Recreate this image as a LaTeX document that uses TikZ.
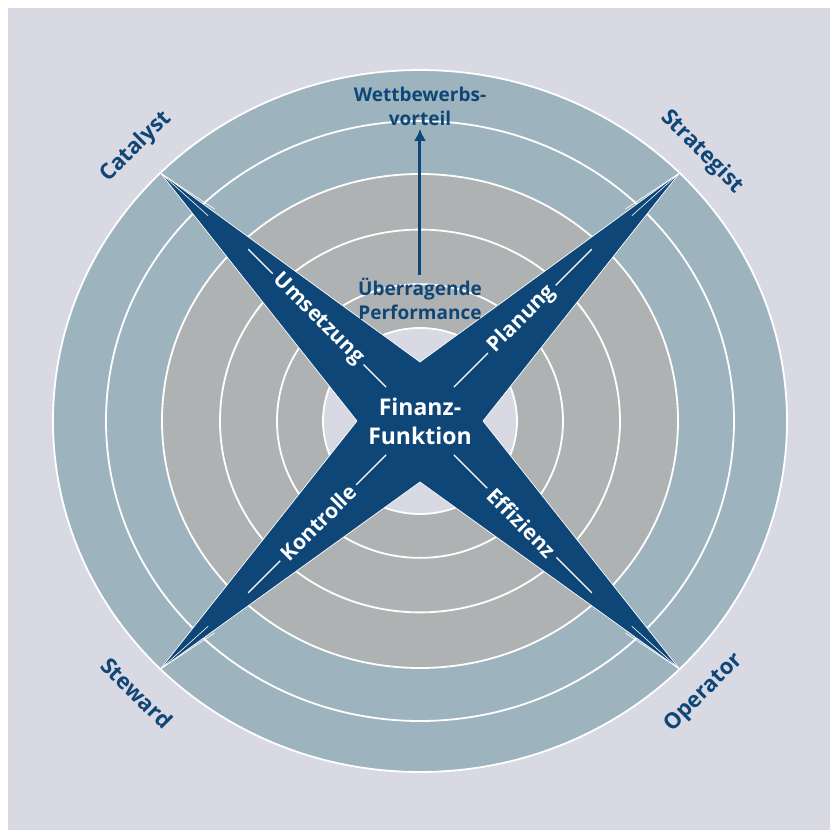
\documentclass[tikz,border=0pt]{standalone}
\usepackage{fontspec}
\setmainfont{Open Sans}
\usetikzlibrary{arrows.meta}
\definecolor{bgcol}{HTML}{D9D9E3}
\definecolor{ringblue}{HTML}{9DB4BE}
\definecolor{ringgray}{HTML}{AFB2B3}
\definecolor{navy}{HTML}{0E4678}

\begin{document}
\begin{tikzpicture}[x=1pt, y=1pt,
  ring/.style={draw=white, line width=1.8pt},
  armlabel/.style={fill=navy, text=white, inner xsep=5pt, inner ysep=1pt,
    font=\bfseries\fontsize{21}{25}\selectfont},
  rolelabel/.style={text=navy, font=\bfseries\fontsize{22}{26}\selectfont},
  goal/.style={text=navy, align=center, font=\bfseries\fontsize{19}{24}\selectfont}]
  % page and background
  \fill[white] (-420,-409) rectangle (410,421);
  \fill[bgcol] (-412,-409) rectangle (410,413);
  % rings
  \draw[ring, fill=ringblue] (0,0) ellipse [x radius=367, y radius=351];
  \draw[ring] (0,0) ellipse [x radius=314, y radius=300];
  \draw[ring, fill=ringgray] (0,0) ellipse [x radius=258, y radius=247];
  \foreach \r in {200,143}
    \draw[ring] (0,0) ellipse [x radius=\r, y radius=0.957*\r];
  \draw[ring, fill=bgcol] (0,0) ellipse [x radius=97, y radius=93];
  % star
  \coordinate (tipNW) at (-259.5,248);
  \coordinate (tipNE) at (259.5,248);
  \coordinate (tipSE) at (259.5,-248);
  \coordinate (tipSW) at (-259.5,-248);
  \fill[navy, draw=white, line width=0.7pt, line join=miter]
    (tipNW) -- (0,59) -- (tipNE) -- (63,0) -- (tipSE) -- (0,-61) -- (tipSW) -- (-63,0) -- cycle;
  % split lines near the tips
  \foreach \tip/\ang in {tipNW/135, tipNE/45, tipSE/-45, tipSW/-135} {
    \draw[white, line width=0.6pt] (\tip) -- (\ang+0.9:295);
    \draw[white, line width=0.6pt] (\tip) -- (\ang-0.9:295);
  }
  \foreach \ang/\txt/\rot in {135/Umsetzung/-45, 45/Planung/45, -135/Kontrolle/45, -45/Effizienz/-45} {
    \draw[white, line width=1.3pt] (\ang:48) -- (\ang:243);
    \node[armlabel, rotate=\rot] (arm\txt) at (\ang:144) {\txt};
  }
  \node[text=white, align=center, font=\bfseries\fontsize{23}{29}\selectfont] (finanz) at (0,0) {Finanz-\\Funktion};
  % goal arrow
  \node[goal] (perf) at (0,122) {Überragende\\Performance};
  \node[goal] (wett) at (0,315) {Wettbewerbs-\\vorteil};
  \draw[navy, line width=3pt, -{Latex[length=12pt,width=12pt]}] (perf) -- (wett);
  % roles
  \node[rolelabel, rotate=45] (catalyst) at (-284,274) {Catalyst};
  \node[rolelabel, rotate=-45] (strategist) at (282,269) {Strategist};
  \node[rolelabel, rotate=-45] (steward) at (-283,-272) {Steward};
  \node[rolelabel, rotate=45] (operator) at (284,-272) {Operator};
\end{tikzpicture}
\end{document}
